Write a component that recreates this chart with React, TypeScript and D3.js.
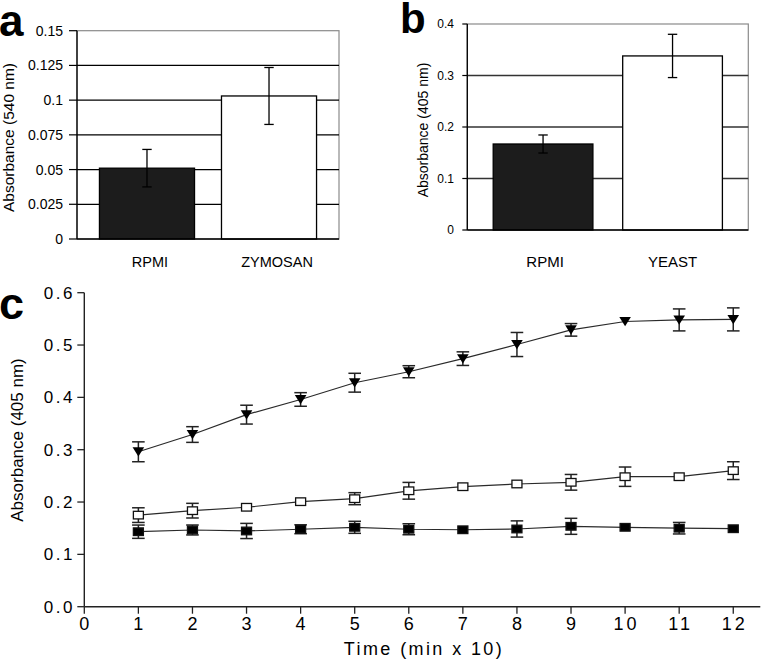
import React, { useEffect, useRef } from 'react';
import * as d3 from 'd3';

const FONT = '"Liberation Sans", Arial, Helvetica, sans-serif';

// panel a
const categoriesA = ['RPMI', 'ZYMOSAN'];
const meansA = [0.051, 0.103];
const errorsA = [0.0135, 0.0205];
const ticksA = [0, 0.025, 0.05, 0.075, 0.1, 0.125, 0.15];
const tickLabelsA = ['0', '0.025', '0.05', '0.075', '0.1', '0.125', '0.15'];

// panel b
const categoriesB = ['RPMI', 'YEAST'];
const meansB = [0.167, 0.338];
const errorsB = [0.0175, 0.042];
const ticksB = [0, 0.1, 0.2, 0.3, 0.4];
const tickLabelsB = ['0', '0.1', '0.2', '0.3', '0.4'];

// panel c
const timePoints = [1, 2, 3, 4, 5, 6, 7, 8, 9, 10, 11, 12];
const triangleMeans = [0.296, 0.329, 0.367, 0.396, 0.428, 0.449, 0.474, 0.501, 0.529, 0.545, 0.548, 0.549];
const triangleErrors = [0.019, 0.015, 0.018, 0.013, 0.018, 0.0115, 0.013, 0.023, 0.012, 0, 0.021, 0.022];
const openMeans = [0.175, 0.1835, 0.19, 0.2007, 0.2064, 0.2215, 0.2293, 0.2345, 0.2377, 0.2484, 0.2484, 0.26];
const openErrors = [0.014, 0.014, 0, 0, 0.0115, 0.016, 0, 0, 0.015, 0.0185, 0, 0.017];
const filledMeans = [0.1433, 0.1466, 0.1447, 0.148, 0.1517, 0.148, 0.147, 0.1485, 0.1536, 0.1517, 0.15, 0.149];
const filledErrors = [0.0127, 0.0095, 0.0145, 0.0085, 0.0115, 0.0105, 0, 0.0155, 0.0153, 0, 0.011, 0];
const ticksCY = [0, 0.1, 0.2, 0.3, 0.4, 0.5, 0.6];
const ticksCX = [0, 1, 2, 3, 4, 5, 6, 7, 8, 9, 10, 11, 12];

type BarPanel = {
  left: number; right: number; top: number; bottom: number; max: number;
  padIn: number; padOut: number;
  categories: string[]; means: number[]; errors: number[];
  ticks: number[]; tickLabels: string[];
  gridColor: string; tickFont: number; tickLen: number; tickLabelX: number;
  title: string; titleFont: number; titleX: number; titleY: number;
  catFont: number; catY: number; catShift: number[];
  letter: string; letterX: number; letterY: number; letterFont: number;
};

function drawBarPanel(svg: any, p: BarPanel) {
  const y = d3.scaleLinear().domain([0, p.max]).range([p.bottom, p.top]);
  const x = d3.scaleBand().domain(p.categories).range([p.left, p.right])
    .paddingInner(p.padIn).paddingOuter(p.padOut);
  const g = svg.append('g');

  // frame (top / right in grey)
  g.append('rect')
    .attr('x', p.left).attr('y', p.top)
    .attr('width', p.right - p.left).attr('height', p.bottom - p.top)
    .attr('fill', 'none').attr('stroke', '#8a8a8a').attr('stroke-width', 1.2);

  // gridlines
  g.selectAll('.grid')
    .data(p.ticks.filter(t => t > 0 && t < p.max))
    .enter().append('line')
    .attr('x1', p.left).attr('x2', p.right)
    .attr('y1', d => y(d)).attr('y2', d => y(d))
    .attr('stroke', p.gridColor).attr('stroke-width', 1.3);

  // bars
  g.selectAll('.bar')
    .data(p.categories)
    .enter().append('rect')
    .attr('x', d => x(d))
    .attr('y', (d, i) => y(p.means[i]))
    .attr('width', x.bandwidth())
    .attr('height', (d, i) => p.bottom - y(p.means[i]))
    .attr('fill', (d, i) => (i === 0 ? '#1c1c1c' : '#ffffff'))
    .attr('stroke', '#000').attr('stroke-width', 1.3);

  // error bars
  const eb = g.selectAll('.err').data(p.categories).enter().append('g');
  const cx = (d: string) => (x(d) as number) + x.bandwidth() / 2;
  eb.append('line')
    .attr('x1', cx).attr('x2', cx)
    .attr('y1', (d, i) => y(p.means[i] + p.errors[i]))
    .attr('y2', (d, i) => y(p.means[i] - p.errors[i]))
    .attr('stroke', '#000').attr('stroke-width', 1.3);
  [1, -1].forEach(s => {
    eb.append('line')
      .attr('x1', d => cx(d) - 4.7).attr('x2', d => cx(d) + 4.7)
      .attr('y1', (d, i) => y(p.means[i] + s * p.errors[i]))
      .attr('y2', (d, i) => y(p.means[i] + s * p.errors[i]))
      .attr('stroke', '#000').attr('stroke-width', 1.3);
  });

  // axis lines
  g.append('line').attr('x1', p.left).attr('x2', p.left).attr('y1', p.top).attr('y2', p.bottom)
    .attr('stroke', '#000').attr('stroke-width', 1.3);
  g.append('line').attr('x1', p.left).attr('x2', p.right).attr('y1', p.bottom).attr('y2', p.bottom)
    .attr('stroke', '#000').attr('stroke-width', 1.3);

  // ticks + labels
  g.selectAll('.tick').data(p.ticks).enter().append('line')
    .attr('x1', p.left - p.tickLen).attr('x2', p.left)
    .attr('y1', d => y(d)).attr('y2', d => y(d))
    .attr('stroke', '#000').attr('stroke-width', 1.2);
  g.selectAll('.tl').data(p.ticks).enter().append('text')
    .attr('x', p.tickLabelX).attr('y', d => y(d)).attr('dy', '0.36em')
    .attr('text-anchor', 'end').attr('font-size', p.tickFont).attr('font-family', FONT)
    .text((d, i) => p.tickLabels[i]);

  // category labels
  g.selectAll('.cat').data(p.categories).enter().append('text')
    .attr('x', (d, i) => cx(d) + p.catShift[i]).attr('y', p.catY)
    .attr('text-anchor', 'middle').attr('font-size', p.catFont).attr('font-family', FONT)
    .text(d => d);

  // y title
  g.append('text')
    .attr('transform', `translate(${p.titleX},${p.titleY}) rotate(-90)`)
    .attr('dy', '0.35em').attr('text-anchor', 'middle')
    .attr('font-size', p.titleFont).attr('font-family', FONT)
    .text(p.title);

  // panel letter
  g.append('text').attr('x', p.letterX).attr('y', p.letterY)
    .attr('font-size', p.letterFont).attr('font-weight', 'bold').attr('font-family', FONT)
    .text(p.letter);
}

function drawTimePanel(svg: any) {
  const left = 84.3, bottom = 606.7, top = 292.7;
  const x = d3.scaleLinear().domain([0, 12.5]).range([left, 760.3]);
  const y = d3.scaleLinear().domain([0, 0.6]).range([bottom, top]);
  const g = svg.append('g');

  // axes
  g.append('line').attr('x1', left).attr('x2', left).attr('y1', y(0.6)).attr('y2', bottom)
    .attr('stroke', '#222').attr('stroke-width', 1.4);
  g.append('line').attr('x1', left).attr('x2', x(12.5)).attr('y1', bottom).attr('y2', bottom)
    .attr('stroke', '#222').attr('stroke-width', 1.4);

  g.selectAll('.yt').data(ticksCY).enter().append('line')
    .attr('x1', left - 7).attr('x2', left).attr('y1', d => y(d)).attr('y2', d => y(d))
    .attr('stroke', '#222').attr('stroke-width', 1.3);
  g.selectAll('.ytl').data(ticksCY).enter().append('text')
    .attr('x', 75).attr('y', d => y(d)).attr('dy', '0.36em')
    .attr('text-anchor', 'end').attr('font-size', 17).attr('letter-spacing', 2.5)
    .attr('font-family', FONT)
    .text(d => d3.format('.1f')(d));

  g.selectAll('.xt').data(ticksCX).enter().append('line')
    .attr('x1', d => x(d)).attr('x2', d => x(d)).attr('y1', bottom).attr('y2', bottom + 7)
    .attr('stroke', '#222').attr('stroke-width', 1.3);
  g.selectAll('.xtl').data(ticksCX).enter().append('text')
    .attr('x', d => x(d) + 1.5).attr('y', 630)
    .attr('text-anchor', 'middle').attr('font-size', 18).attr('letter-spacing', 3)
    .attr('font-family', FONT)
    .text(d => String(d));

  g.append('text').attr('x', 424).attr('y', 655)
    .attr('text-anchor', 'middle').attr('font-size', 18).attr('letter-spacing', 2.4)
    .attr('font-family', FONT).text('Time (min x 10)');
  g.append('text')
    .attr('transform', 'translate(16.7,440) rotate(-90)')
    .attr('dy', '0.35em').attr('text-anchor', 'middle')
    .attr('font-size', 17).attr('font-family', FONT)
    .text('Absorbance (405 nm)');
  g.append('text').attr('x', -1).attr('y', 319)
    .attr('font-size', 45).attr('font-weight', 'bold').attr('font-family', FONT)
    .text('c');

  const series = [
    { means: filledMeans, errors: filledErrors, shape: 'filled' },
    { means: openMeans, errors: openErrors, shape: 'open' },
    { means: triangleMeans, errors: triangleErrors, shape: 'triangle' },
  ];
  const line = d3.line<number>().x((d, i) => x(timePoints[i])).y(d => y(d));

  series.forEach(s => {
    g.append('path').attr('d', line(s.means)).attr('fill', 'none')
      .attr('stroke', '#2a2a2a').attr('stroke-width', 1.2);
    const pts = timePoints.map((t, i) => ({ t, m: s.means[i], e: s.errors[i] })).filter(d => d.e > 0);
    const eg = g.selectAll(null).data(pts).enter().append('g').attr('stroke', '#222').attr('stroke-width', 1.5);
    eg.append('line').attr('x1', d => x(d.t)).attr('x2', d => x(d.t))
      .attr('y1', d => y(d.m + d.e)).attr('y2', d => y(d.m - d.e));
    [1, -1].forEach(k => {
      eg.append('line').attr('x1', d => x(d.t) - 6.3).attr('x2', d => x(d.t) + 6.3)
        .attr('y1', d => y(d.m + k * d.e)).attr('y2', d => y(d.m + k * d.e));
    });
  });

  series.forEach(s => {
    const mk = g.selectAll(null).data(timePoints).enter();
    if (s.shape === 'triangle') {
      mk.append('path')
        .attr('d', 'M-5.8,-4.5L5.8,-4.5L0,4.8Z')
        .attr('transform', (d, i) => `translate(${x(d)},${y(s.means[i])})`)
        .attr('fill', '#000');
    } else {
      mk.append('rect')
        .attr('x', d => x(d) - 5).attr('y', (d, i) => y(s.means[i]) - 3.8)
        .attr('width', 10).attr('height', 7.6)
        .attr('fill', s.shape === 'open' ? '#fff' : '#000')
        .attr('stroke', '#111').attr('stroke-width', 1.3);
    }
  });
}

const App = () => {
  const ref = useRef<SVGSVGElement>(null);

  useEffect(() => {
    const svg = d3.select(ref.current);
    svg.selectAll('*').remove();
    svg.append('rect').attr('width', 761).attr('height', 659).attr('fill', '#fff');

    drawBarPanel(svg, {
      left: 77, right: 339, top: 30.7, bottom: 239, max: 0.15,
      padIn: 0.221, padOut: 0.184,
      categories: categoriesA, means: meansA, errors: errorsA,
      ticks: ticksA, tickLabels: tickLabelsA,
      gridColor: '#000', tickFont: 14, tickLen: 8, tickLabelX: 63,
      title: 'Absorbance (540 nm)', titleFont: 15.5, titleX: 8.5, titleY: 137.5,
      catFont: 14.5, catY: 266.5, catShift: [3, 8],
      letter: 'a', letterX: -1, letterY: 36, letterFont: 44,
    });

    drawBarPanel(svg, {
      left: 467.3, right: 748.3, top: 24, bottom: 230, max: 0.4,
      padIn: 0.23, padOut: 0.2,
      categories: categoriesB, means: meansB, errors: errorsB,
      ticks: ticksB, tickLabels: tickLabelsB,
      gridColor: '#333', tickFont: 12, tickLen: 5, tickLabelX: 454,
      title: 'Absorbance (405 nm)', titleFont: 14, titleX: 423, titleY: 130,
      catFont: 15, catY: 266.5, catShift: [2, 0],
      letter: 'b', letterX: 400, letterY: 33, letterFont: 42,
    });

    drawTimePanel(svg);
  }, []);

  return (
    <svg ref={ref} width={761} height={659}
      style={{ position: 'absolute', left: 0, top: 0, display: 'block' }} />
  );
};

export default App;
